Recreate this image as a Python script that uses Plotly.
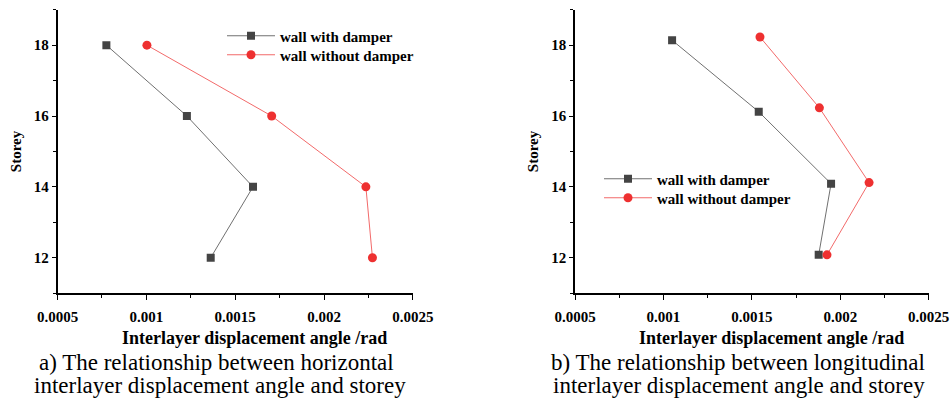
import plotly.graph_objects as go

# Storey levels and interlayer displacement angles (rad)
storeys = [18, 16, 14, 12]

# a) horizontal direction
horiz_with_damper = [0.000775, 0.001228, 0.0016, 0.001362]
horiz_without_damper = [0.001003, 0.001705, 0.002235, 0.002272]

# b) longitudinal direction (plotted storey positions slightly offset)
long_storey_with = [18.14, 16.12, 14.09, 12.08]
long_with_damper = [0.001049, 0.001539, 0.001948, 0.001878]
long_storey_without = [18.23, 16.23, 14.12, 12.08]
long_without_damper = [0.001546, 0.001882, 0.002163, 0.001925]

x_ticks = [0.0005, 0.001, 0.0015, 0.002, 0.0025]
x_tick_labels = ["0.0005", "0.001", "0.0015", "0.002", "0.0025"]
y_ticks = [12, 14, 16, 18]

series_names = ["wall with damper", "wall without damper"]
x_title = "Interlayer displacement angle /rad"
y_title = "Storey"
caption_lines = [
    ["a) The relationship between horizontal", "interlayer displacement angle and storey"],
    ["b) The relationship between longitudinal", "interlayer displacement angle and storey"],
]

SERIF = "Liberation Serif"
GRAY_LINE = "#707070"
GRAY_MARK = "#444444"
RED_LINE = "#f26a6a"
RED_MARK = "#ee3030"

W, H = 952, 406

fig = go.Figure()

def add_pair(xw, yw, xo, yo, xa, ya, legends):
    fig.add_trace(go.Scatter(
        x=xw, y=yw, mode="lines+markers", name=series_names[0],
        line=dict(color=GRAY_LINE, width=1),
        marker=dict(symbol="square", size=8, color=GRAY_MARK),
        xaxis=xa, yaxis=ya, legend=legends[0],
    ))
    fig.add_trace(go.Scatter(
        x=xo, y=yo, mode="lines+markers", name=series_names[1],
        line=dict(color=RED_LINE, width=1),
        marker=dict(symbol="circle", size=9, color=RED_MARK),
        xaxis=xa, yaxis=ya, legend=legends[1],
    ))

add_pair(horiz_with_damper, storeys, horiz_without_damper, storeys,
         "x", "y", ("legend", "legend3"))
add_pair(long_with_damper, long_storey_with, long_without_damper, long_storey_without,
         "x2", "y2", ("legend2", "legend4"))

x_tick_font = dict(family=SERIF, size=15, color="black", weight="bold")
y_tick_font = dict(family=SERIF, size=15, color="black", weight="bold")

def x_axis(domain, anchor):
    return dict(
        domain=domain, anchor=anchor, range=[0.0005, 0.0025], automargin=False,
        tickvals=x_ticks, ticktext=x_tick_labels,
        showline=True, linecolor="black", linewidth=1.5,
        ticks="outside", ticklen=5, tickwidth=1.2, tickcolor="black",
        minor=dict(ticks="outside", ticklen=3, tickwidth=1, tickcolor="black", dtick=0.00025),
        showgrid=False, zeroline=False, tickfont=x_tick_font, ticklabelstandoff=4,
    )

def y_axis(domain, anchor):
    return dict(
        domain=domain, anchor=anchor, range=[11, 19], automargin=False,
        tickvals=y_ticks,
        showline=True, linecolor="black", linewidth=1.5,
        ticks="outside", ticklen=4, tickwidth=1.2, tickcolor="black",
        minor=dict(ticks="outside", ticklen=3, tickwidth=1, tickcolor="black", dtick=1, tick0=11),
        showgrid=False, zeroline=False, tickfont=y_tick_font,
        title=dict(text=y_title, font=dict(family=SERIF, size=15, color="black", weight="bold"),
                   standoff=9),
    )

legend_font = dict(family=SERIF, size=15, color="black", weight="bold")

def legend_row(px, py):
    return dict(x=px / W, y=1 - py / H, xanchor="left", yanchor="middle", itemwidth=48,
                bgcolor="rgba(0,0,0,0)", font=legend_font, tracegroupgap=0)

fig.update_layout(
    width=W, height=H,
    margin=dict(l=0, r=0, t=0, b=0),
    paper_bgcolor="white", plot_bgcolor="white",
    xaxis=x_axis([0.0604, 0.4338], "y"),
    yaxis=y_axis([0.278, 0.976], "x"),
    xaxis2=x_axis([0.604, 0.9755], "y2"),
    yaxis2=y_axis([0.278, 0.976], "x2"),
    legend=legend_row(222, 36),
    legend3=legend_row(222, 55),
    legend2=legend_row(599, 179),
    legend4=legend_row(599, 198),
    showlegend=True,
)

# x-axis titles
for cx in (254, 771):
    fig.add_annotation(
        x=cx / W, y=1 - 338 / H, xref="paper", yref="paper",
        xanchor="center", yanchor="middle", text=x_title, showarrow=False,
        font=dict(family=SERIF, size=18, color="black", weight="bold"),
    )

# two-line captions under each panel
caption_centers = [(216, 220), (738, 739)]
line_y = [362, 385]
for (cx1, cx2), lines in zip(caption_centers, caption_lines):
    for cx, cy, text in zip((cx1, cx2), line_y, lines):
        fig.add_annotation(
            x=cx / W, y=1 - cy / H, xref="paper", yref="paper",
            xanchor="center", yanchor="middle",
            text=text, showarrow=False,
            font=dict(family=SERIF, size=23, color="black"),
        )

fig.write_html("out.html")
